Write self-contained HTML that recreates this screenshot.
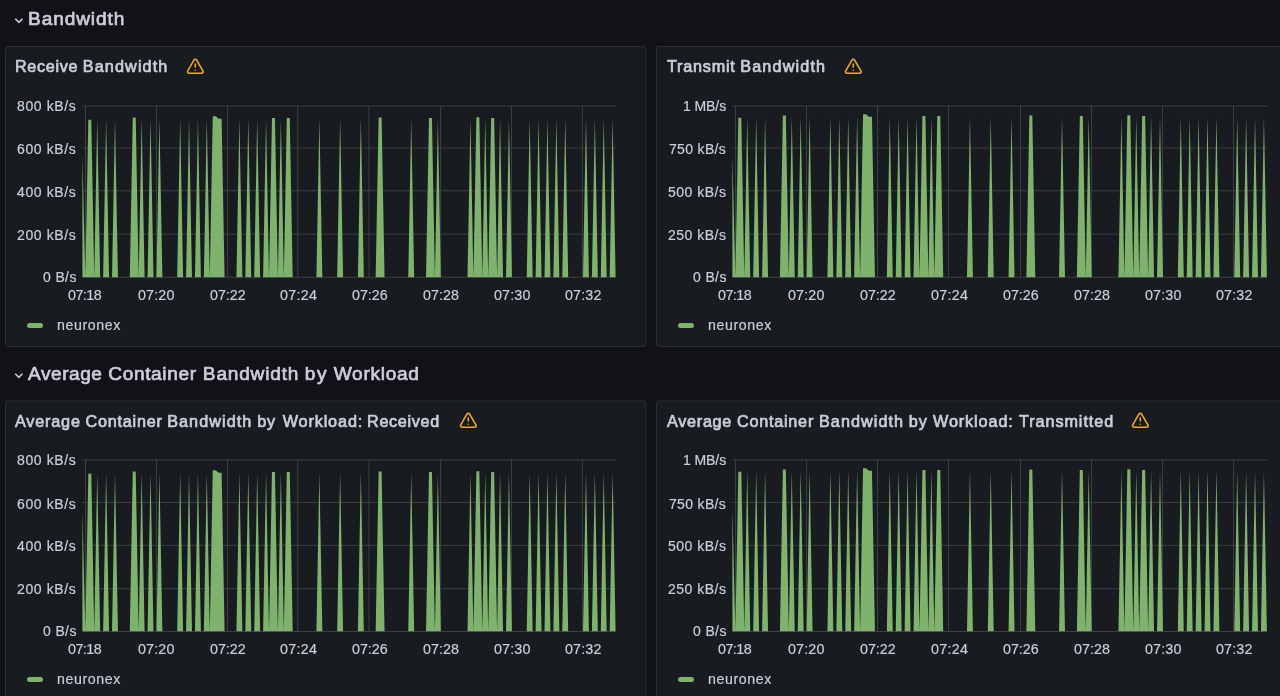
<!DOCTYPE html>
<html lang="en"><head><meta charset="utf-8"><title>Bandwidth dashboard</title>
<style>
html,body{margin:0;padding:0}
body{width:1280px;height:696px;overflow:hidden;background:#111217;color:#ccccdc;
 font-family:"Liberation Sans",sans-serif;position:relative}
h1,h2,.yl,.xl,.legend span{will-change:transform}
.row{position:absolute;left:0;height:30px;width:1280px}
.row svg{position:absolute;left:12.8px;top:9.2px}
.row h1{position:absolute;top:0.3px;margin:0;font-size:19.1px;line-height:22px;font-weight:400;
 white-space:nowrap;-webkit-text-stroke:0.7px #ccccdc}
.panel{position:absolute;width:642px;height:302px;overflow:hidden}
.frame{position:absolute;left:0;top:0}
.in{position:absolute;left:1px;width:639px;height:299px}
.ptitle{position:absolute;top:8px;margin:0;font-size:16.2px;line-height:22px;font-weight:400;
 white-space:nowrap;-webkit-text-stroke:0.7px #ccccdc}
.warn{position:absolute;top:10.3px}
.plot{position:absolute;left:0;top:0}
.grid line{stroke:#3d3f45;stroke-width:1}
.yl{position:absolute;height:18px;line-height:18px;font-size:14px;white-space:nowrap;-webkit-text-stroke:0.2px #ccccdc}
.xl{position:absolute;top:239.0px;height:18px;line-height:18px;font-size:14.3px;white-space:nowrap;-webkit-text-stroke:0.2px #ccccdc}
.legend{position:absolute;left:21px;top:267.5px;height:20px}
.legend i{position:absolute;left:0;top:8.5px;width:16.4px;height:5px;border-radius:2.5px;background:#7eb26d}
.legend span{position:absolute;left:29.6px;top:0;line-height:20px;font-size:14.2px;letter-spacing:0.6px;white-space:nowrap;-webkit-text-stroke:0.2px #ccccdc}
</style></head><body>
<div class="row" style="top:8px"><svg width="12" height="8" viewBox="0 0 12 8"><path d="M2.2 1.7 L5.85 5.4 L9.5 1.7" fill="none" stroke="#ccccdc" stroke-width="1.6"/></svg><h1 style="left:28.22px"><span style="letter-spacing:0.891px">Bandwidth</span></h1></div>
<section class="panel" style="left:5px;top:46px"><svg class="frame" width="642" height="302" viewBox="0 0 642 302"><rect x="0.5" y="0.50" width="640.4" height="300" rx="2.5" fill="#181b1f" stroke="#2c2e34"/></svg><div class="in" style="top:1.00px">
<h2 class="ptitle" style="left:9.20px;top:8.25px"><span style="letter-spacing:0.654px">Receive</span><span style="letter-spacing:0.221px"> </span><span style="letter-spacing:1.125px">Bandwidth</span></h2>
<svg class="warn" style="left:180.12px;top:10.30px" width="18.6" height="18.6" viewBox="0 0 24 24"><path fill="#f4a730" d="M12,16a1,1,0,1,0,1,1A1,1,0,0,0,12,16Zm10.67,1.47-8.05-14a3,3,0,0,0-5.24,0l-8,14A3,3,0,0,0,3.94,22H20.06a3,3,0,0,0,2.61-4.53Zm-1.73,2a1,1,0,0,1-.88.51H3.94a1,1,0,0,1-.88-.51,1,1,0,0,1,0-1l8-14a1,1,0,0,1,1.78,0l8.05,14A1,1,0,0,1,20.94,19.49ZM12,8a1,1,0,0,0-1,1v4a1,1,0,0,0,2,0V9A1,1,0,0,0,12,8Z"/></svg>
<svg class="plot" width="638" height="298" viewBox="0 0 638 298">
<g class="grid"><line x1="76.40" x2="609.60" y1="59.05" y2="59.05"/><line x1="76.40" x2="609.60" y1="100.90" y2="100.90"/><line x1="76.40" x2="609.60" y1="143.80" y2="143.80"/><line x1="76.40" x2="609.60" y1="187.20" y2="187.20"/><line x1="76.40" x2="609.60" y1="230.25" y2="230.25"/><line x1="79.51" x2="79.51" y1="58.75" y2="230.20"/><line x1="150.46" x2="150.46" y1="58.75" y2="230.20"/><line x1="221.55" x2="221.55" y1="58.75" y2="230.20"/><line x1="291.74" x2="291.74" y1="58.75" y2="230.20"/><line x1="363.04" x2="363.04" y1="58.75" y2="230.20"/><line x1="434.63" x2="434.63" y1="58.75" y2="230.20"/><line x1="505.47" x2="505.47" y1="58.75" y2="230.20"/><line x1="576.42" x2="576.42" y1="58.75" y2="230.20"/></g>
<polygon fill="#7eb26d" points="76.40,230.20 76.40,109.00 79.36,230.20 82.32,72.75 85.29,72.75 88.25,230.20 91.21,71.60 94.17,230.20 97.14,230.20 100.10,71.60 103.06,230.20 106.02,230.20 108.98,71.60 111.95,230.20 123.80,230.20 126.76,70.50 129.72,70.50 132.68,230.20 135.64,71.60 138.61,230.20 141.57,230.20 144.53,71.60 147.49,230.20 150.46,230.20 153.42,71.60 156.38,230.20 171.19,230.20 174.15,71.60 177.12,230.20 180.08,230.20 183.04,71.60 186.00,230.20 188.96,230.20 191.93,71.60 194.89,230.20 197.85,230.20 200.81,71.60 203.78,230.20 206.74,69.25 209.70,69.25 212.66,71.75 215.62,71.75 218.59,230.20 230.44,230.20 233.40,71.60 236.36,230.20 239.32,230.20 242.28,71.60 245.25,230.20 248.21,230.20 251.17,71.60 254.13,230.20 257.10,230.20 260.06,71.60 263.02,230.20 265.98,70.90 268.94,70.90 271.91,230.20 274.87,71.60 277.83,230.20 280.79,70.90 283.76,70.90 286.72,230.20 310.42,230.20 313.38,71.60 316.34,230.20 331.15,230.20 334.11,71.60 337.08,230.20 351.89,230.20 354.85,71.60 357.81,230.20 369.66,230.20 372.62,70.50 375.58,70.50 378.55,230.20 402.24,230.20 405.21,71.60 408.17,230.20 420.02,230.20 422.98,70.90 425.94,70.90 428.90,230.20 431.87,71.60 434.83,230.20 461.49,230.20 464.45,71.60 467.41,230.20 470.38,70.25 473.34,70.25 476.30,230.20 479.26,71.60 482.22,230.20 485.19,70.90 488.15,70.90 491.11,230.20 494.07,71.60 497.04,230.20 500.00,230.20 502.96,71.60 505.92,230.20 520.73,230.20 523.70,71.60 526.66,230.20 529.62,230.20 532.58,71.60 535.54,230.20 538.51,230.20 541.47,71.60 544.43,230.20 547.39,230.20 550.36,71.60 553.32,230.20 556.28,230.20 559.24,71.60 562.20,230.20 577.02,230.20 579.98,71.60 582.94,230.20 585.90,230.20 588.86,71.60 591.83,230.20 594.79,230.20 597.75,71.60 600.71,230.20 603.68,230.20 606.64,71.60 609.60,230.20 609.60,230.20"/>
</svg>
<span class="yl" style="left:11.19px;top:49.50px;letter-spacing:0.62px">800 kB/s</span>
<span class="yl" style="left:11.19px;top:92.90px;letter-spacing:0.62px">600 kB/s</span>
<span class="yl" style="left:11.19px;top:135.70px;letter-spacing:0.62px">400 kB/s</span>
<span class="yl" style="left:11.19px;top:178.80px;letter-spacing:0.62px">200 kB/s</span>
<span class="yl" style="left:36.59px;top:220.90px;letter-spacing:0.37px">0 B/s</span>
<span class="xl" style="left:62.17px;letter-spacing:-0.55px">07:18</span>
<span class="xl" style="left:132.28px;letter-spacing:0.15px">07:20</span>
<span class="xl" style="left:203.53px;letter-spacing:-0.04px">07:22</span>
<span class="xl" style="left:274.01px;letter-spacing:0.27px">07:24</span>
<span class="xl" style="left:346.13px;letter-spacing:-0.04px">07:26</span>
<span class="xl" style="left:417.45px;letter-spacing:0.02px">07:28</span>
<span class="xl" style="left:487.76px;letter-spacing:0.145px">07:30</span>
<span class="xl" style="left:558.77px;letter-spacing:0.145px">07:32</span>
<div class="legend"><i></i><span>neuronex</span></div>
</div></section>
<section class="panel" style="left:656px;top:46px"><svg class="frame" width="642" height="302" viewBox="0 0 642 302"><rect x="0.5" y="0.50" width="640.4" height="300" rx="2.5" fill="#181b1f" stroke="#2c2e34"/></svg><div class="in" style="top:1.00px">
<h2 class="ptitle" style="left:9.78px;top:8.25px"><span style="letter-spacing:0.777px">Transmit</span><span style="letter-spacing:0.163px"> </span><span style="letter-spacing:1.157px">Bandwidth</span></h2>
<svg class="warn" style="left:186.60px;top:10.30px" width="18.6" height="18.6" viewBox="0 0 24 24"><path fill="#f4a730" d="M12,16a1,1,0,1,0,1,1A1,1,0,0,0,12,16Zm10.67,1.47-8.05-14a3,3,0,0,0-5.24,0l-8,14A3,3,0,0,0,3.94,22H20.06a3,3,0,0,0,2.61-4.53Zm-1.73,2a1,1,0,0,1-.88.51H3.94a1,1,0,0,1-.88-.51,1,1,0,0,1,0-1l8-14a1,1,0,0,1,1.78,0l8.05,14A1,1,0,0,1,20.94,19.49ZM12,8a1,1,0,0,0-1,1v4a1,1,0,0,0,2,0V9A1,1,0,0,0,12,8Z"/></svg>
<svg class="plot" width="638" height="298" viewBox="0 0 638 298">
<g class="grid"><line x1="75.40" x2="609.90" y1="59.05" y2="59.05"/><line x1="75.40" x2="609.90" y1="100.90" y2="100.90"/><line x1="75.40" x2="609.90" y1="143.80" y2="143.80"/><line x1="75.40" x2="609.90" y1="187.20" y2="187.20"/><line x1="75.40" x2="609.90" y1="230.25" y2="230.25"/><line x1="78.57" x2="78.57" y1="58.75" y2="230.20"/><line x1="149.54" x2="149.54" y1="58.75" y2="230.20"/><line x1="220.50" x2="220.50" y1="58.75" y2="230.20"/><line x1="291.52" x2="291.52" y1="58.75" y2="230.20"/><line x1="363.49" x2="363.49" y1="58.75" y2="230.20"/><line x1="434.50" x2="434.50" y1="58.75" y2="230.20"/><line x1="505.47" x2="505.47" y1="58.75" y2="230.20"/><line x1="576.54" x2="576.54" y1="58.75" y2="230.20"/></g>
<polygon fill="#7eb26d" points="75.40,230.20 75.40,107.00 78.37,230.20 81.34,70.75 84.31,70.75 87.28,230.20 90.25,69.60 93.22,230.20 96.19,230.20 99.16,69.60 102.12,230.20 105.09,230.20 108.06,69.60 111.03,230.20 122.91,230.20 125.88,68.50 128.85,68.50 131.82,230.20 134.79,69.60 137.76,230.20 140.73,230.20 143.70,69.60 146.67,230.20 149.64,230.20 152.61,69.60 155.57,230.20 170.42,230.20 173.39,69.60 176.36,230.20 179.33,230.20 182.30,69.60 185.27,230.20 188.24,230.20 191.21,69.60 194.18,230.20 197.15,230.20 200.12,69.60 203.09,230.20 206.06,67.25 209.03,67.25 211.99,69.75 214.96,69.75 217.93,230.20 229.81,230.20 232.78,69.60 235.75,230.20 238.72,230.20 241.69,69.60 244.66,230.20 247.63,230.20 250.60,69.60 253.57,230.20 256.54,230.20 259.51,69.60 262.48,230.20 265.44,68.90 268.41,68.90 271.38,230.20 274.35,69.60 277.32,230.20 280.29,68.90 283.26,68.90 286.23,230.20 309.99,230.20 312.96,69.60 315.93,230.20 330.77,230.20 333.74,69.60 336.71,230.20 351.56,230.20 354.53,69.60 357.50,230.20 369.38,230.20 372.34,68.50 375.31,68.50 378.28,230.20 402.04,230.20 405.01,69.60 407.98,230.20 419.86,230.20 422.83,68.90 425.79,68.90 428.76,230.20 431.73,69.60 434.70,230.20 461.43,230.20 464.40,69.60 467.37,230.20 470.34,68.25 473.31,68.25 476.28,230.20 479.24,69.60 482.21,230.20 485.18,68.90 488.15,68.90 491.12,230.20 494.09,69.60 497.06,230.20 500.03,230.20 503.00,69.60 505.97,230.20 520.82,230.20 523.79,69.60 526.76,230.20 529.73,230.20 532.69,69.60 535.66,230.20 538.63,230.20 541.60,69.60 544.57,230.20 547.54,230.20 550.51,69.60 553.48,230.20 556.45,230.20 559.42,69.60 562.39,230.20 577.24,230.20 580.21,69.60 583.18,230.20 586.14,230.20 589.11,69.60 592.08,230.20 595.05,230.20 598.02,69.60 600.99,230.20 603.96,230.20 606.93,69.60 609.90,230.20 609.90,230.20"/>
</svg>
<span class="yl" style="left:26.05px;top:49.50px;letter-spacing:-0.08px">1 MB/s</span>
<span class="yl" style="left:12.42px;top:92.90px;letter-spacing:0.33px">750 kB/s</span>
<span class="yl" style="left:11.23px;top:135.70px;letter-spacing:0.5px">500 kB/s</span>
<span class="yl" style="left:11.23px;top:178.80px;letter-spacing:0.5px">250 kB/s</span>
<span class="yl" style="left:35.79px;top:220.90px;letter-spacing:0.37px">0 B/s</span>
<span class="xl" style="left:61.18px;letter-spacing:-0.55px">07:18</span>
<span class="xl" style="left:131.46px;letter-spacing:0.15px">07:20</span>
<span class="xl" style="left:202.88px;letter-spacing:-0.04px">07:22</span>
<span class="xl" style="left:273.53px;letter-spacing:0.27px">07:24</span>
<span class="xl" style="left:345.83px;letter-spacing:-0.04px">07:26</span>
<span class="xl" style="left:417.32px;letter-spacing:0.02px">07:28</span>
<span class="xl" style="left:487.80px;letter-spacing:0.145px">07:30</span>
<span class="xl" style="left:558.99px;letter-spacing:0.145px">07:32</span>
<div class="legend"><i></i><span>neuronex</span></div>
</div></section>
<div class="row" style="top:362.45px"><svg width="12" height="8" viewBox="0 0 12 8"><path d="M2.2 1.7 L5.85 5.4 L9.5 1.7" fill="none" stroke="#ccccdc" stroke-width="1.6"/></svg><h1 style="left:27.65px"><span style="letter-spacing:0.535px">Average</span><span style="letter-spacing:0.369px"> </span><span style="letter-spacing:0.639px">Container</span><span style="letter-spacing:0.764px"> </span><span style="letter-spacing:0.796px">Bandwidth</span><span style="letter-spacing:0.358px"> </span><span style="letter-spacing:1.452px">by</span><span style="letter-spacing:0.452px"> </span><span style="letter-spacing:0.702px">Workload</span></h1></div>
<section class="panel" style="left:5px;top:400px"><svg class="frame" width="642" height="302" viewBox="0 0 642 302"><rect x="0.5" y="0.95" width="640.4" height="300" rx="2.5" fill="#181b1f" stroke="#2c2e34"/></svg><div class="in" style="top:1.45px">
<h2 class="ptitle" style="left:8.85px;top:8.55px"><span style="letter-spacing:0.818px">Average</span><span style="letter-spacing:0.318px"> </span><span style="letter-spacing:0.755px">Container</span><span style="letter-spacing:0.130px"> </span><span style="letter-spacing:1.068px">Bandwidth</span><span style="letter-spacing:0.418px"> </span><span style="letter-spacing:0.718px">by</span><span style="letter-spacing:2.268px"> </span><span style="letter-spacing:0.880px">Workload:</span><span style="letter-spacing:-0.595px"> </span><span style="letter-spacing:0.675px">Received</span></h2>
<svg class="warn" style="left:453.10px;top:9.40px" width="18.6" height="18.6" viewBox="0 0 24 24"><path fill="#f4a730" d="M12,16a1,1,0,1,0,1,1A1,1,0,0,0,12,16Zm10.67,1.47-8.05-14a3,3,0,0,0-5.24,0l-8,14A3,3,0,0,0,3.94,22H20.06a3,3,0,0,0,2.61-4.53Zm-1.73,2a1,1,0,0,1-.88.51H3.94a1,1,0,0,1-.88-.51,1,1,0,0,1,0-1l8-14a1,1,0,0,1,1.78,0l8.05,14A1,1,0,0,1,20.94,19.49ZM12,8a1,1,0,0,0-1,1v4a1,1,0,0,0,2,0V9A1,1,0,0,0,12,8Z"/></svg>
<svg class="plot" width="638" height="298" viewBox="0 0 638 298">
<g class="grid"><line x1="76.40" x2="609.60" y1="59.05" y2="59.05"/><line x1="76.40" x2="609.60" y1="101.40" y2="101.40"/><line x1="76.40" x2="609.60" y1="144.30" y2="144.30"/><line x1="76.40" x2="609.60" y1="187.70" y2="187.70"/><line x1="76.40" x2="609.60" y1="230.50" y2="230.50"/><line x1="79.51" x2="79.51" y1="58.75" y2="230.20"/><line x1="150.46" x2="150.46" y1="58.75" y2="230.20"/><line x1="221.55" x2="221.55" y1="58.75" y2="230.20"/><line x1="291.74" x2="291.74" y1="58.75" y2="230.20"/><line x1="363.04" x2="363.04" y1="58.75" y2="230.20"/><line x1="434.63" x2="434.63" y1="58.75" y2="230.20"/><line x1="505.47" x2="505.47" y1="58.75" y2="230.20"/><line x1="576.42" x2="576.42" y1="58.75" y2="230.20"/></g>
<polygon fill="#7eb26d" points="76.40,230.20 76.40,109.00 79.36,230.20 82.32,72.75 85.29,72.75 88.25,230.20 91.21,71.60 94.17,230.20 97.14,230.20 100.10,71.60 103.06,230.20 106.02,230.20 108.98,71.60 111.95,230.20 123.80,230.20 126.76,70.50 129.72,70.50 132.68,230.20 135.64,71.60 138.61,230.20 141.57,230.20 144.53,71.60 147.49,230.20 150.46,230.20 153.42,71.60 156.38,230.20 171.19,230.20 174.15,71.60 177.12,230.20 180.08,230.20 183.04,71.60 186.00,230.20 188.96,230.20 191.93,71.60 194.89,230.20 197.85,230.20 200.81,71.60 203.78,230.20 206.74,69.25 209.70,69.25 212.66,71.75 215.62,71.75 218.59,230.20 230.44,230.20 233.40,71.60 236.36,230.20 239.32,230.20 242.28,71.60 245.25,230.20 248.21,230.20 251.17,71.60 254.13,230.20 257.10,230.20 260.06,71.60 263.02,230.20 265.98,70.90 268.94,70.90 271.91,230.20 274.87,71.60 277.83,230.20 280.79,70.90 283.76,70.90 286.72,230.20 310.42,230.20 313.38,71.60 316.34,230.20 331.15,230.20 334.11,71.60 337.08,230.20 351.89,230.20 354.85,71.60 357.81,230.20 369.66,230.20 372.62,70.50 375.58,70.50 378.55,230.20 402.24,230.20 405.21,71.60 408.17,230.20 420.02,230.20 422.98,70.90 425.94,70.90 428.90,230.20 431.87,71.60 434.83,230.20 461.49,230.20 464.45,71.60 467.41,230.20 470.38,70.25 473.34,70.25 476.30,230.20 479.26,71.60 482.22,230.20 485.19,70.90 488.15,70.90 491.11,230.20 494.07,71.60 497.04,230.20 500.00,230.20 502.96,71.60 505.92,230.20 520.73,230.20 523.70,71.60 526.66,230.20 529.62,230.20 532.58,71.60 535.54,230.20 538.51,230.20 541.47,71.60 544.43,230.20 547.39,230.20 550.36,71.60 553.32,230.20 556.28,230.20 559.24,71.60 562.20,230.20 577.02,230.20 579.98,71.60 582.94,230.20 585.90,230.20 588.86,71.60 591.83,230.20 594.79,230.20 597.75,71.60 600.71,230.20 603.68,230.20 606.64,71.60 609.60,230.20 609.60,230.20"/>
</svg>
<span class="yl" style="left:11.19px;top:49.50px;letter-spacing:0.62px">800 kB/s</span>
<span class="yl" style="left:11.19px;top:93.90px;letter-spacing:0.62px">600 kB/s</span>
<span class="yl" style="left:11.19px;top:135.70px;letter-spacing:0.62px">400 kB/s</span>
<span class="yl" style="left:11.19px;top:178.80px;letter-spacing:0.62px">200 kB/s</span>
<span class="yl" style="left:36.59px;top:220.90px;letter-spacing:0.37px">0 B/s</span>
<span class="xl" style="left:62.17px;letter-spacing:-0.55px">07:18</span>
<span class="xl" style="left:132.28px;letter-spacing:0.15px">07:20</span>
<span class="xl" style="left:203.53px;letter-spacing:-0.04px">07:22</span>
<span class="xl" style="left:274.01px;letter-spacing:0.27px">07:24</span>
<span class="xl" style="left:346.13px;letter-spacing:-0.04px">07:26</span>
<span class="xl" style="left:417.45px;letter-spacing:0.02px">07:28</span>
<span class="xl" style="left:487.76px;letter-spacing:0.145px">07:30</span>
<span class="xl" style="left:558.77px;letter-spacing:0.145px">07:32</span>
<div class="legend"><i></i><span>neuronex</span></div>
</div></section>
<section class="panel" style="left:656px;top:400px"><svg class="frame" width="642" height="302" viewBox="0 0 642 302"><rect x="0.5" y="0.95" width="640.4" height="300" rx="2.5" fill="#181b1f" stroke="#2c2e34"/></svg><div class="in" style="top:1.45px">
<h2 class="ptitle" style="left:9.60px;top:8.55px"><span style="letter-spacing:0.723px">Average</span><span style="letter-spacing:0.473px"> </span><span style="letter-spacing:0.754px">Container</span><span style="letter-spacing:0.442px"> </span><span style="letter-spacing:1.067px">Bandwidth</span><span style="letter-spacing:0.129px"> </span><span style="letter-spacing:0.848px">by</span><span style="letter-spacing:0.848px"> </span><span style="letter-spacing:0.911px">Workload:</span><span style="letter-spacing:0.786px"> </span><span style="letter-spacing:0.923px">Transmitted</span></h2>
<svg class="warn" style="left:474.25px;top:9.40px" width="18.6" height="18.6" viewBox="0 0 24 24"><path fill="#f4a730" d="M12,16a1,1,0,1,0,1,1A1,1,0,0,0,12,16Zm10.67,1.47-8.05-14a3,3,0,0,0-5.24,0l-8,14A3,3,0,0,0,3.94,22H20.06a3,3,0,0,0,2.61-4.53Zm-1.73,2a1,1,0,0,1-.88.51H3.94a1,1,0,0,1-.88-.51,1,1,0,0,1,0-1l8-14a1,1,0,0,1,1.78,0l8.05,14A1,1,0,0,1,20.94,19.49ZM12,8a1,1,0,0,0-1,1v4a1,1,0,0,0,2,0V9A1,1,0,0,0,12,8Z"/></svg>
<svg class="plot" width="638" height="298" viewBox="0 0 638 298">
<g class="grid"><line x1="75.40" x2="609.90" y1="59.05" y2="59.05"/><line x1="75.40" x2="609.90" y1="101.40" y2="101.40"/><line x1="75.40" x2="609.90" y1="144.30" y2="144.30"/><line x1="75.40" x2="609.90" y1="187.70" y2="187.70"/><line x1="75.40" x2="609.90" y1="230.50" y2="230.50"/><line x1="78.57" x2="78.57" y1="58.75" y2="230.20"/><line x1="149.54" x2="149.54" y1="58.75" y2="230.20"/><line x1="220.50" x2="220.50" y1="58.75" y2="230.20"/><line x1="291.52" x2="291.52" y1="58.75" y2="230.20"/><line x1="363.49" x2="363.49" y1="58.75" y2="230.20"/><line x1="434.50" x2="434.50" y1="58.75" y2="230.20"/><line x1="505.47" x2="505.47" y1="58.75" y2="230.20"/><line x1="576.54" x2="576.54" y1="58.75" y2="230.20"/></g>
<polygon fill="#7eb26d" points="75.40,230.20 75.40,107.00 78.37,230.20 81.34,70.75 84.31,70.75 87.28,230.20 90.25,69.60 93.22,230.20 96.19,230.20 99.16,69.60 102.12,230.20 105.09,230.20 108.06,69.60 111.03,230.20 122.91,230.20 125.88,68.50 128.85,68.50 131.82,230.20 134.79,69.60 137.76,230.20 140.73,230.20 143.70,69.60 146.67,230.20 149.64,230.20 152.61,69.60 155.57,230.20 170.42,230.20 173.39,69.60 176.36,230.20 179.33,230.20 182.30,69.60 185.27,230.20 188.24,230.20 191.21,69.60 194.18,230.20 197.15,230.20 200.12,69.60 203.09,230.20 206.06,67.25 209.03,67.25 211.99,69.75 214.96,69.75 217.93,230.20 229.81,230.20 232.78,69.60 235.75,230.20 238.72,230.20 241.69,69.60 244.66,230.20 247.63,230.20 250.60,69.60 253.57,230.20 256.54,230.20 259.51,69.60 262.48,230.20 265.44,68.90 268.41,68.90 271.38,230.20 274.35,69.60 277.32,230.20 280.29,68.90 283.26,68.90 286.23,230.20 309.99,230.20 312.96,69.60 315.93,230.20 330.77,230.20 333.74,69.60 336.71,230.20 351.56,230.20 354.53,69.60 357.50,230.20 369.38,230.20 372.34,68.50 375.31,68.50 378.28,230.20 402.04,230.20 405.01,69.60 407.98,230.20 419.86,230.20 422.83,68.90 425.79,68.90 428.76,230.20 431.73,69.60 434.70,230.20 461.43,230.20 464.40,69.60 467.37,230.20 470.34,68.25 473.31,68.25 476.28,230.20 479.24,69.60 482.21,230.20 485.18,68.90 488.15,68.90 491.12,230.20 494.09,69.60 497.06,230.20 500.03,230.20 503.00,69.60 505.97,230.20 520.82,230.20 523.79,69.60 526.76,230.20 529.73,230.20 532.69,69.60 535.66,230.20 538.63,230.20 541.60,69.60 544.57,230.20 547.54,230.20 550.51,69.60 553.48,230.20 556.45,230.20 559.42,69.60 562.39,230.20 577.24,230.20 580.21,69.60 583.18,230.20 586.14,230.20 589.11,69.60 592.08,230.20 595.05,230.20 598.02,69.60 600.99,230.20 603.96,230.20 606.93,69.60 609.90,230.20 609.90,230.20"/>
</svg>
<span class="yl" style="left:26.05px;top:49.50px;letter-spacing:-0.08px">1 MB/s</span>
<span class="yl" style="left:12.42px;top:93.90px;letter-spacing:0.33px">750 kB/s</span>
<span class="yl" style="left:11.23px;top:135.70px;letter-spacing:0.5px">500 kB/s</span>
<span class="yl" style="left:11.23px;top:178.80px;letter-spacing:0.5px">250 kB/s</span>
<span class="yl" style="left:35.79px;top:220.90px;letter-spacing:0.37px">0 B/s</span>
<span class="xl" style="left:61.18px;letter-spacing:-0.55px">07:18</span>
<span class="xl" style="left:131.46px;letter-spacing:0.15px">07:20</span>
<span class="xl" style="left:202.88px;letter-spacing:-0.04px">07:22</span>
<span class="xl" style="left:273.53px;letter-spacing:0.27px">07:24</span>
<span class="xl" style="left:345.83px;letter-spacing:-0.04px">07:26</span>
<span class="xl" style="left:417.32px;letter-spacing:0.02px">07:28</span>
<span class="xl" style="left:487.80px;letter-spacing:0.145px">07:30</span>
<span class="xl" style="left:558.99px;letter-spacing:0.145px">07:32</span>
<div class="legend"><i></i><span>neuronex</span></div>
</div></section>
</body></html>
